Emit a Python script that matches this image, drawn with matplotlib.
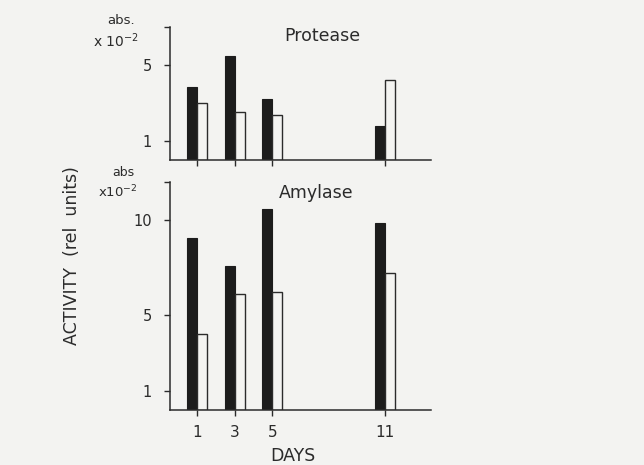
import numpy as np
import matplotlib
matplotlib.use("Agg")
import matplotlib.pyplot as plt

# data (units: abs x 10^-2)
days = [1, 3, 5, 11]
protease_dark = [3.86, 5.49, 3.21, 1.79]
protease_light = [2.98, 2.51, 2.37, 4.21]
amylase_dark = [9.04, 7.6, 10.6, 9.82]
amylase_light = [4.0, 6.1, 6.23, 7.19]

W, H = 644, 465
BG = "#f3f3f1"
INK = "#2b2b2b"

plt.rcParams["font.family"] = ["DejaVu Sans"]
plt.rcParams["mathtext.default"] = "regular"

fig = plt.figure(figsize=(W / 100, H / 100), dpi=100, facecolor=BG)


def px_axes(left, top, right, bottom):
    return fig.add_axes([left / W, 1 - bottom / H, (right - left) / W, (bottom - top) / H])


def style(ax, ymax, yticks, ylabels, xlabels):
    ax.set_facecolor("none")
    ax.set_xlim(-0.44, 13.45)
    ax.set_ylim(0, ymax)
    for s in ("top", "right"):
        ax.spines[s].set_visible(False)
    for s in ("left", "bottom"):
        ax.spines[s].set_color(INK)
        ax.spines[s].set_linewidth(1.1)
    ax.set_yticks(yticks)
    ax.set_yticklabels(ylabels)
    ax.set_xticks(days)
    ax.set_xticklabels([str(d) for d in days] if xlabels else [])
    ax.tick_params(axis="y", direction="out", length=4, width=1.0, pad=9,
                   colors=INK, labelsize=10.5)
    ax.tick_params(axis="x", direction="out", length=4, width=1.0, pad=7,
                   colors=INK, labelsize=11)


def bars(ax, dark, light):
    w = 0.53
    x = np.array(days, dtype=float)
    ax.bar(x - w, dark, width=w, align="edge", color="#1c1c1c",
           edgecolor="#1c1c1c", linewidth=0.8)
    ax.bar(x, light, width=w, align="edge", color=BG,
           edgecolor=INK, linewidth=1.0)


# protease panel
ax1 = px_axes(170, 27, 431, 160)
style(ax1, 7, [1, 5, 7], ["1", "5", ""], xlabels=False)
bars(ax1, protease_dark, protease_light)

# amylase panel
ax2 = px_axes(170, 182, 431, 410)
style(ax2, 12, [1, 5, 10, 12], ["1", "5", "10", ""], xlabels=True)
bars(ax2, amylase_dark, amylase_light)


def ftext(x, y, s, **kw):
    fig.text(x / W, 1 - y / H, s, color=INK, ha="center", va="center", **kw)


ftext(322, 36, "Protease", fontsize=12.5)
ftext(316, 193, "Amylase", fontsize=12.5)
ftext(121, 20, "abs.", fontsize=9.5)
ftext(116, 41, "x 10$^{-2}$", fontsize=10)
ftext(123, 172, "abs", fontsize=9)
ftext(118, 192, "x10$^{-2}$", fontsize=9.5)
ftext(72, 256, "ACTIVITY  (rel  units)", fontsize=12.5, rotation=90)
ftext(293, 456, "DAYS", fontsize=12.5)

fig.savefig("out.png", dpi=100, facecolor=BG)
